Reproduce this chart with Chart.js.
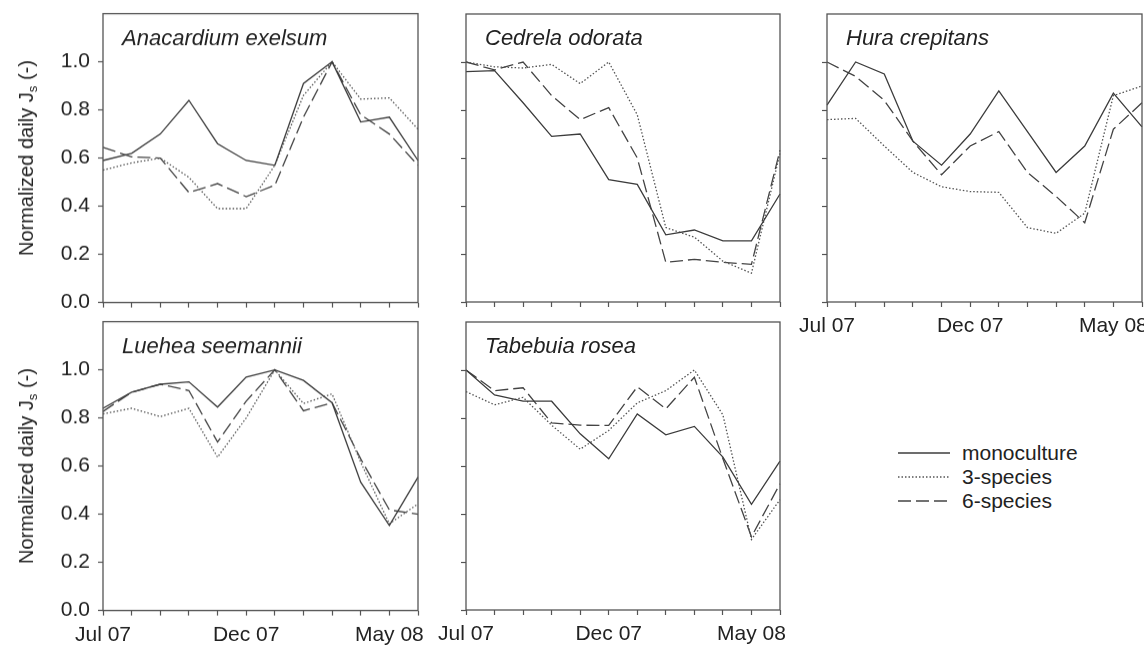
<!DOCTYPE html>
<html>
<head>
<meta charset="utf-8">
<script src="https://cdn.jsdelivr.net/npm/chart.js@4.4.1/dist/chart.umd.min.js"></script>
<style>
  body { margin: 0; background: #fff; width: 1144px; height: 645px; overflow: hidden; position: relative; font-family: "Liberation Sans", Arial, sans-serif; }
  canvas { position: absolute; }
  #legend { position: absolute; left: 898px; top: 441px; color: #222; font-size: 21px; }
  #legend .row { height: 24px; display: flex; align-items: center; }
  #legend svg { width: 52px; height: 6px; margin-right: 12px; }
</style>
</head>
<body>
<canvas id="p1"></canvas>
<canvas id="p2"></canvas>
<canvas id="p3"></canvas>
<canvas id="p4"></canvas>
<canvas id="p5"></canvas>
<div id="legend">
  <div class="row"><svg><line x1="0" y1="3" x2="52" y2="3" stroke="#3c3c3c" stroke-width="1.4"/></svg>monoculture</div>
  <div class="row"><svg><line x1="0" y1="3" x2="52" y2="3" stroke="#555" stroke-width="1.4" stroke-dasharray="1.5 2"/></svg>3-species</div>
  <div class="row"><svg><line x1="0" y1="3" x2="52" y2="3" stroke="#444" stroke-width="1.4" stroke-dasharray="13 5"/></svg>6-species</div>
</div>
<script>
// monthly values, Jul 07 .. Jun 08
var months = ['Jul 07', 'Aug 07', 'Sep 07', 'Oct 07', 'Nov 07', 'Dec 07', 'Jan 08', 'Feb 08', 'Mar 08', 'Apr 08', 'May 08', 'Jun 08'];
var shownMonths = ['Jul 07', 'Dec 07', 'May 08'];
var yMin = 0, yMax = 1.2, yStep = 0.2;

var anaMono  = [0.59, 0.62, 0.70, 0.84, 0.66, 0.59, 0.57, 0.91, 1.00, 0.75, 0.77, 0.59];
var anaThree = [0.55, 0.58, 0.60, 0.52, 0.39, 0.39, 0.57, 0.86, 1.00, 0.845, 0.85, 0.72];
var anaSix   = [0.645, 0.605, 0.60, 0.457, 0.494, 0.44, 0.487, 0.77, 1.00, 0.78, 0.70, 0.57];

var cedMono  = [0.96, 0.964, 0.83, 0.69, 0.70, 0.51, 0.49, 0.28, 0.30, 0.255, 0.255, 0.45];
var cedThree = [1.00, 0.98, 0.975, 0.99, 0.91, 1.00, 0.78, 0.31, 0.27, 0.17, 0.12, 0.62];
var cedSix   = [1.00, 0.967, 1.00, 0.86, 0.76, 0.81, 0.60, 0.165, 0.178, 0.165, 0.157, 0.633];

var huraMono  = [0.82, 1.00, 0.95, 0.67, 0.57, 0.70, 0.88, 0.71, 0.54, 0.65, 0.87, 0.73];
var huraThree = [0.76, 0.765, 0.65, 0.54, 0.48, 0.46, 0.457, 0.31, 0.286, 0.37, 0.86, 0.90];
var huraSix   = [1.00, 0.94, 0.84, 0.67, 0.53, 0.65, 0.71, 0.54, 0.44, 0.33, 0.72, 0.83];

var luehMono  = [0.84, 0.907, 0.94, 0.95, 0.845, 0.97, 1.00, 0.956, 0.863, 0.533, 0.353, 0.554];
var luehThree = [0.817, 0.84, 0.806, 0.84, 0.637, 0.80, 1.00, 0.86, 0.90, 0.616, 0.36, 0.443];
var luehSix   = [0.827, 0.907, 0.94, 0.914, 0.70, 0.87, 1.00, 0.83, 0.863, 0.63, 0.418, 0.40];

var tabMono  = [1.00, 0.896, 0.87, 0.87, 0.734, 0.63, 0.817, 0.73, 0.765, 0.637, 0.44, 0.62];
var tabThree = [0.91, 0.855, 0.886, 0.77, 0.67, 0.748, 0.863, 0.914, 1.00, 0.813, 0.294, 0.46];
var tabSix   = [1.00, 0.914, 0.926, 0.78, 0.77, 0.769, 0.93, 0.838, 0.97, 0.63, 0.305, 0.526];

var frameColor = '#555';
var textColor = '#222';
var fontFamily = '"Liberation Sans", Arial, sans-serif';

Chart.defaults.font.family = fontFamily;
Chart.defaults.color = textColor;

// box around the plot area + italic species name + y title (left column only)
var panelDeco = {
    id: 'panelDeco',
    afterDraw: function (chart, args, opts) {
        var ctx = chart.ctx;
        var a = chart.chartArea;
        ctx.save();
        ctx.strokeStyle = frameColor;
        ctx.lineWidth = 1.3;
        ctx.strokeRect(a.left, a.top, a.right - a.left, a.bottom - a.top);

        ctx.fillStyle = textColor;
        ctx.font = 'italic 22px ' + fontFamily;
        ctx.textBaseline = 'alphabetic';
        ctx.fillText(opts.title, a.left + 19, a.top + 31);

        if (opts.yTitle) {
            var cy = (a.top + a.bottom) / 2;
            ctx.translate(a.left - 70, cy);
            ctx.rotate(-Math.PI / 2);
            ctx.font = '20px ' + fontFamily;
            var w1 = ctx.measureText('Normalized daily J').width;
            var w3 = ctx.measureText(' (-)').width;
            ctx.font = '13px ' + fontFamily;
            var ws = ctx.measureText('s').width;
            var x = -(w1 + ws + w3) / 2;
            ctx.font = '20px ' + fontFamily;
            ctx.fillText('Normalized daily J', x, 0);
            ctx.font = '13px ' + fontFamily;
            ctx.fillText('s', x + w1, 4);
            ctx.font = '20px ' + fontFamily;
            ctx.fillText(' (-)', x + w1 + ws, 0);
        }
        ctx.restore();
    }
};

function makePanel(id, box, title, mono, three, six, showY, showX) {
    var axisW = showY ? box.left : 60;
    var topPad = 4, rightPad = 2, bottomH = 44;
    var canvas = document.getElementById(id);
    canvas.width = axisW + (box.right - box.left) + rightPad;
    canvas.height = topPad + (box.bottom - box.top) + bottomH;

    var line = function (data, color, dash) {
        return {
            data: data,
            borderColor: color,
            borderWidth: 1.3,
            borderDash: dash,
            pointRadius: 0,
            tension: 0,
            fill: false
        };
    };

    var chart = new Chart(canvas, {
        type: 'line',
        data: {
            labels: months,
            datasets: [
                line(mono, '#3c3c3c', []),
                line(three, '#555', [1.5, 2]),
                line(six, '#444', [13, 5])
            ]
        },
        options: {
            responsive: false,
            maintainAspectRatio: false,
            animation: false,
            events: [],
            layout: { padding: { left: 0, top: topPad, right: rightPad, bottom: 0 } },
            plugins: {
                legend: { display: false },
                tooltip: { enabled: false },
                panelDeco: { title: title, yTitle: showY }
            },
            scales: {
                x: {
                    offset: false,
                    border: { display: false },
                    grid: { drawOnChartArea: false, drawTicks: true, tickLength: 5, tickColor: frameColor, tickWidth: 1.2 },
                    ticks: {
                        display: showX,
                        autoSkip: false,
                        maxRotation: 0,
                        padding: 7,
                        font: { size: 21 },
                        color: textColor,
                        callback: function (v, i) {
                            return shownMonths.indexOf(months[i]) >= 0 ? months[i] : '';
                        }
                    },
                    afterFit: function (s) { s.height = bottomH; }
                },
                y: {
                    min: yMin,
                    max: yMax,
                    border: { display: false },
                    grid: {
                        drawOnChartArea: false, drawTicks: true, tickLength: 5, tickWidth: 1.2,
                        tickColor: function (c) { return c.tick && c.tick.value > 1.1 ? 'rgba(0,0,0,0)' : frameColor; }
                    },
                    ticks: {
                        display: showY,
                        stepSize: yStep,
                        padding: 8,
                        font: { size: 21 },
                        color: textColor,
                        callback: function (v) { return v > 1.1 ? '' : v.toFixed(1); }
                    },
                    afterFit: function (s) { s.width = axisW; }
                }
            }
        },
        plugins: [panelDeco]
    });

    // layout may add label padding; grow the canvas so the plot area keeps its size, then align it
    var a = chart.chartArea;
    chart.resize(canvas.width + (box.right - box.left) - (a.right - a.left),
                 canvas.height + (box.bottom - box.top) - (a.bottom - a.top));
    a = chart.chartArea;
    canvas.style.left = (box.left - a.left) + 'px';
    canvas.style.top = (box.top - a.top) + 'px';
    return chart;
}

makePanel('p1', { left: 103, right: 418, top: 14, bottom: 302 }, 'Anacardium exelsum', anaMono, anaThree, anaSix, true, false);
makePanel('p2', { left: 466, right: 780, top: 14, bottom: 302 }, 'Cedrela odorata', cedMono, cedThree, cedSix, false, false);
makePanel('p3', { left: 827, right: 1142, top: 14, bottom: 302 }, 'Hura crepitans', huraMono, huraThree, huraSix, false, true);
makePanel('p4', { left: 103, right: 418, top: 322, bottom: 610 }, 'Luehea seemannii', luehMono, luehThree, luehSix, true, true);
makePanel('p5', { left: 466, right: 780, top: 322, bottom: 610 }, 'Tabebuia rosea', tabMono, tabThree, tabSix, false, true);
</script>
</body>
</html>
